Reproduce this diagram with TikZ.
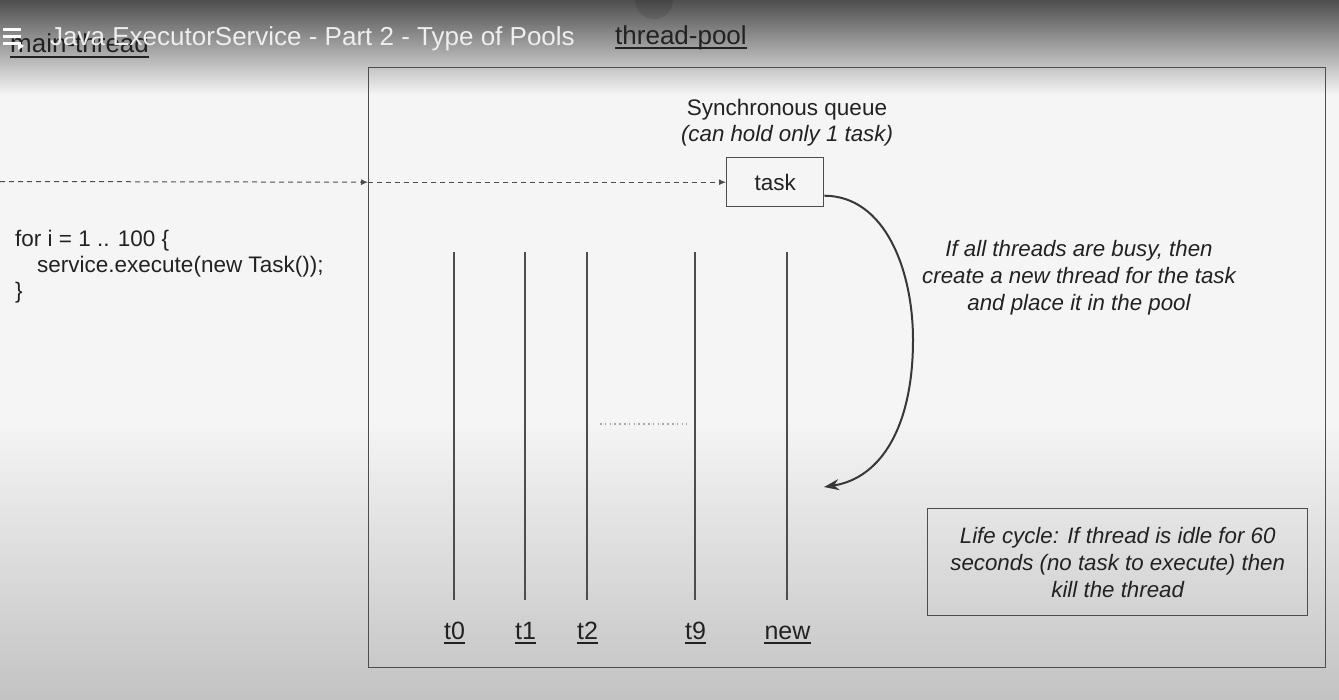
\documentclass[tikz,border=0pt]{standalone}
\usepackage{fontspec}
\setmainfont{Liberation Sans}
\usetikzlibrary{arrows.meta}
\definecolor{ink}{HTML}{222222}
\definecolor{linec}{HTML}{4d4d4d}
\definecolor{bgtop}{HTML}{4e4e4e}
\definecolor{bgmid}{HTML}{f5f5f5}
\definecolor{bgbot}{HTML}{c3c3c3}
\definecolor{titlec}{HTML}{eeeeee}
\definecolor{dotc}{HTML}{a8a8a8}
\begin{document}
\begin{tikzpicture}[x=1pt,y=-1pt,
  txt/.style={font=\fontsize{22.5}{27}\selectfont, text=ink, inner sep=0pt},
  itxt/.style={font=\fontsize{22.3}{27}\selectfont\itshape, text=ink, inner sep=0pt, align=center},
  big/.style={font=\fontsize{26}{30}\selectfont, inner sep=0pt, anchor=base west},
  thr/.style={draw=linec, line width=1.3pt},
  lbl/.style={font=\fontsize{25}{30}\selectfont, text=ink, inner sep=0pt, anchor=base},
  ulin/.style={draw=ink, line width=1.5pt},
  boxed/.style={draw=linec, line width=1.4pt, inner sep=0pt, anchor=north west},
  dsh/.style={draw=linec, line width=1pt, dash pattern=on 5pt off 4pt, -{Latex[length=7pt,width=6pt]}}
  ]
\useasboundingbox (0,0) rectangle (1339,699);
% background
\shade[top color=bgtop, bottom color=bgmid] (0,0) rectangle (1339,95);
\fill[bgmid] (0,95) rectangle (1339,420);
\shade[top color=bgmid, bottom color=bgbot] (0,420) rectangle (1339,699);
\fill[black, opacity=0.1] (654,0) circle (19);

% main-thread label (under the title overlay)
\node[big, text=ink] (mainthr) at (10,52) {main-thread};
\draw[ulin] ([yshift=-5pt]mainthr.base west) -- ([yshift=-5pt]mainthr.base east);

% title overlay
\foreach \yy in {29,36,43} \draw[white, line width=3pt] (3,\yy) -- (21,\yy);
\fill[white] (18,42) -- (24,46) -- (18,50) -- cycle;
\node[big, text=titlec] (title) at (50,45) {Java ExecutorService - Part 2 - Type of Pools};

% thread-pool label
\node[big, text=ink] (poollbl) at (615,44) {thread-pool};
\draw[ulin] ([yshift=-4pt]poollbl.base west) -- ([yshift=-4pt]poollbl.base east);

% pool box
\node[boxed, minimum width=957pt, minimum height=600pt] (pool) at (368,67) {};

% synchronous queue
\node[txt, anchor=base] (sq) at (787,115) {Synchronous queue};
\node[itxt, anchor=base] (sqnote) at (787,141) {(can hold only 1 task)};
\node[boxed, minimum width=97pt, minimum height=49pt, txt] (task) at (726,157) {task};

% dashed arrows
\coordinate (src) at (0,181.5);
\coordinate (entry) at (pool.west |- task.west);
\draw[dsh] (src) -- (entry);
\draw[dsh] (entry) -- (task.west);

% code
\node[txt, anchor=base west] (code1) at (15,246) {for i = 1 .. 100 \{};
\node[txt, anchor=base west] (code2) at (37,272) {service.execute(new Task());};
\node[txt, anchor=base west] (code3) at (15,298) {\}};

% threads
\foreach \nm/\xx/\lab in {t0/454/t0, t1/525/t1, t2/587/t2, t9/695/t9, tn/787/new} {
  \coordinate (\nm top) at (\xx,252);
  \coordinate (\nm bot) at (\xx,600);
  \draw[thr] (\nm top) -- (\nm bot);
  \node[lbl] (\nm lab) at (\xx+0.5,639) {\lab};
  \draw[ulin] ([yshift=-4pt]\nm lab.base west) -- ([yshift=-4pt]\nm lab.base east);
}
\coordinate (dotA) at (600,424);
\coordinate (dotB) at (687,424);
\draw[draw=dotc, line width=1.6pt, dash pattern=on 1.6pt off 3.2pt] (dotA) -- (dotB);

% curved arrow
\coordinate (cend) at (824,487);
\draw[draw=ink!90, line width=2pt, -{Stealth[length=15pt,width=11pt]}]
  ([yshift=-13.5pt]task.east) .. controls (885,196) and (913,270) .. (913,340)
  .. controls (913,425) and (882,478) .. (cend);

% explanation
\node[itxt] (busy) at (1079,278) {If all threads are busy, then\\create a new thread for the task\\and place it in the pool};

% life cycle
\node[boxed, minimum width=380pt, minimum height=107pt] (life) at (927,508) {};
\node[itxt] (lifetxt) at (life.center) {Life cycle: If thread is idle for 60\\seconds (no task to execute) then\\kill the thread};
\end{tikzpicture}
\end{document}
